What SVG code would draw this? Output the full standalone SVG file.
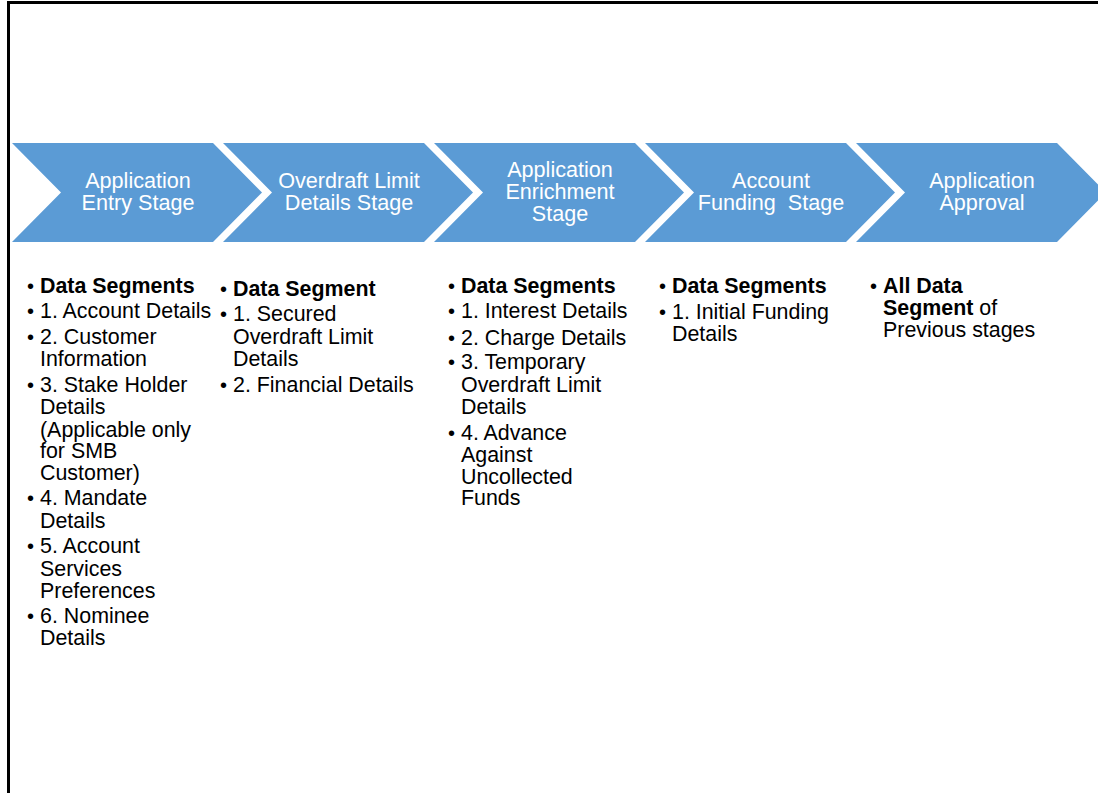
<svg xmlns="http://www.w3.org/2000/svg" width="1098" height="793" viewBox="0 0 1098 793">
<style>
.chev{fill:#5B9BD5}
.ct{font-family:"Liberation Sans",Arial,sans-serif;font-size:21.6px;fill:#FFFFFF;text-anchor:middle}
.bt{font-family:"Liberation Sans",Arial,sans-serif;font-size:21.4px;fill:#000000}
.b{font-weight:bold}
.d{font-size:20px}
</style>
<defs>
<path id="chev" d="M0,0 H201 L250,49.5 L201,99 H0 L49,49.5 Z"/>
</defs>
<rect x="0" y="0" width="1098" height="793" fill="#FFFFFF"/>
<path d="M8.5,793 V2.5 H1098" fill="none" stroke="#000000" stroke-width="3"/>
<g id="connectors"/>
<g id="stage1">
<use href="#chev" class="chev" x="12" y="143"/>
<text class="ct"><tspan x="138" y="188">Application</tspan><tspan x="138" y="210">Entry Stage</tspan></text>
</g>
<g id="stage2">
<use href="#chev" class="chev" x="223" y="143"/>
<text class="ct"><tspan x="349" y="188">Overdraft Limit</tspan><tspan x="349" y="210">Details Stage</tspan></text>
</g>
<g id="stage3">
<use href="#chev" class="chev" x="434" y="143"/>
<text class="ct"><tspan x="560" y="177">Application</tspan><tspan x="560" y="199">Enrichment</tspan><tspan x="560" y="221">Stage</tspan></text>
</g>
<g id="stage4">
<use href="#chev" class="chev" x="645" y="143"/>
<text class="ct" xml:space="preserve"><tspan x="771" y="188">Account</tspan><tspan x="771" y="210">Funding  Stage</tspan></text>
</g>
<g id="stage5">
<use href="#chev" class="chev" x="856" y="143"/>
<text class="ct"><tspan x="982" y="188">Application</tspan><tspan x="982" y="210">Approval</tspan></text>
</g>
<g id="list1">
<text class="bt">
<tspan x="27" y="293" class="d">•</tspan><tspan x="40" y="293" class="b">Data Segments</tspan>
<tspan x="27" y="318" class="d">•</tspan><tspan x="40" y="318">1. Account Details</tspan>
<tspan x="27" y="344" class="d">•</tspan><tspan x="40" y="344">2. Customer</tspan>
<tspan x="40" y="366">Information</tspan>
<tspan x="27" y="392" class="d">•</tspan><tspan x="40" y="392">3. Stake Holder</tspan>
<tspan x="40" y="414">Details</tspan>
<tspan x="40" y="437">(Applicable only</tspan>
<tspan x="40" y="458">for SMB</tspan>
<tspan x="40" y="480">Customer)</tspan>
<tspan x="27" y="505" class="d">•</tspan><tspan x="40" y="505">4. Mandate</tspan>
<tspan x="40" y="528">Details</tspan>
<tspan x="27" y="553" class="d">•</tspan><tspan x="40" y="553">5. Account</tspan>
<tspan x="40" y="576">Services</tspan>
<tspan x="40" y="598">Preferences</tspan>
<tspan x="27" y="623" class="d">•</tspan><tspan x="40" y="623">6. Nominee</tspan>
<tspan x="40" y="645">Details</tspan>
</text>
</g>
<g id="list2">
<text class="bt">
<tspan x="220" y="296" class="d">•</tspan><tspan x="233" y="296" class="b">Data Segment</tspan>
<tspan x="220" y="321" class="d">•</tspan><tspan x="233" y="321">1. Secured</tspan>
<tspan x="233" y="344">Overdraft Limit</tspan>
<tspan x="233" y="366">Details</tspan>
<tspan x="220" y="392" class="d">•</tspan><tspan x="233" y="392">2. Financial Details</tspan>
</text>
</g>
<g id="list3">
<text class="bt">
<tspan x="448" y="293" class="d">•</tspan><tspan x="461" y="293" class="b">Data Segments</tspan>
<tspan x="448" y="318" class="d">•</tspan><tspan x="461" y="318">1. Interest Details</tspan>
<tspan x="448" y="345" class="d">•</tspan><tspan x="461" y="345">2. Charge Details</tspan>
<tspan x="448" y="369" class="d">•</tspan><tspan x="461" y="369">3. Temporary</tspan>
<tspan x="461" y="392">Overdraft Limit</tspan>
<tspan x="461" y="414">Details</tspan>
<tspan x="448" y="440" class="d">•</tspan><tspan x="461" y="440">4. Advance</tspan>
<tspan x="461" y="462">Against</tspan>
<tspan x="461" y="484">Uncollected</tspan>
<tspan x="461" y="505">Funds</tspan>
</text>
</g>
<g id="list4">
<text class="bt">
<tspan x="659" y="293" class="d">•</tspan><tspan x="672" y="293" class="b">Data Segments</tspan>
<tspan x="659" y="319" class="d">•</tspan><tspan x="672" y="319">1. Initial Funding</tspan>
<tspan x="672" y="341">Details</tspan>
</text>
</g>
<g id="list5">
<text class="bt">
<tspan x="870" y="293" class="d">•</tspan><tspan x="883" y="293" class="b">All Data</tspan>
<tspan x="883" y="315" class="b">Segment</tspan><tspan> of</tspan>
<tspan x="883" y="337">Previous stages</tspan>
</text>
</g>
</svg>
